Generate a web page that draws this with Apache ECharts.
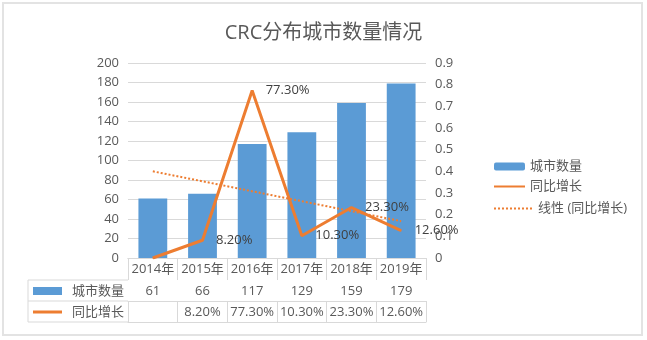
<!DOCTYPE html>
<html>
<head>
<meta charset="utf-8">
<title>CRC分布城市数量情况</title>
<script src="https://cdn.jsdelivr.net/npm/echarts@6/dist/echarts.min.js"></script>
<style>
  html, body { margin: 0; padding: 0; background: #ffffff; }
  #chart { width: 647px; height: 340px; }
</style>
</head>
<body>
<div id="chart"></div>
<script>
// Years on the category axis
const years = ['2014年', '2015年', '2016年', '2017年', '2018年', '2019年'];
// Number of cities per year
const cityCounts = [61, 66, 117, 129, 159, 179];
// Year-on-year growth (2014 has no previous year)
const growthRates = [null, 0.082, 0.773, 0.103, 0.233, 0.126];
// Linear trend of the growth rate, first and last year
const trendStart = 0.40;
const trendEnd = 0.17;
// Series names
const seriesNames = ['城市数量', '同比增长', '线性 (同比增长)'];
// Axis ticks
const leftTicks = { min: 0, max: 200, interval: 20 };
const rightTicks = { min: 0, max: 0.9, interval: 0.1 };

const FONT = "'Open Sans', 'Noto Sans CJK SC', sans-serif";
const TEXT = '#595959';
const RULE = '#D9D9D9';
const BLUE = '#5B9BD5';
const ORANGE = '#ED7D31';

const pct = v => (v * 100).toFixed(2) + '%';
const growthLine = growthRates.map(v => (v == null ? 0 : v));
const trendLine = years.map((_, i) => (i === 0 ? trendStart : i === years.length - 1 ? trendEnd : null));

const chart = echarts.init(document.getElementById('chart'), null, { renderer: 'canvas' });

// One table row below the plot: a category axis pushed down by an offset
function tableRow(offset, formatter, tickLen) {
  return {
    type: 'category',
    data: years,
    position: 'bottom',
    offset: offset,
    boundaryGap: true,
    axisLine: { show: true, lineStyle: { color: RULE, width: 1 } },
    axisTick: { show: tickLen > 0, interval: 0, alignWithLabel: false, length: tickLen, lineStyle: { color: RULE } },
    axisLabel: { show: !!formatter, interval: 0, margin: 5, color: TEXT, fontSize: 13, fontFamily: FONT, formatter: formatter },
    splitLine: { show: false }
  };
}

// legend entries for the lines show only the stroke, no marker
const hideMarker = { opacity: 0 };

chart.setOption({
  backgroundColor: '#ffffff',
  textStyle: { fontFamily: FONT },
  animation: false,
  title: {
    text: 'CRC分布城市数量情况',
    left: 'center',
    top: 18,
    textStyle: { color: TEXT, fontSize: 20, fontWeight: 'normal', fontFamily: FONT }
  },
  legend: [
    {
      data: [{ name: seriesNames[0] }, { name: seriesNames[1], itemStyle: hideMarker }],
      orient: 'vertical',
      left: 488,
      top: 155,
      itemWidth: 31,
      itemHeight: 8,
      itemGap: 7,
      textStyle: { color: TEXT, fontSize: 13, fontFamily: FONT },
      selectedMode: false
    },
    {
      data: [{ name: seriesNames[2], itemStyle: hideMarker }],
      orient: 'vertical',
      left: 488,
      top: 197,
      itemWidth: 39,
      itemHeight: 8,
      textStyle: { color: TEXT, fontSize: 13, fontFamily: FONT },
      selectedMode: false
    }
  ],
  grid: { left: 128, right: 221, top: 63, bottom: 82, containLabel: false },
  xAxis: [
    tableRow(0, v => v, 22),
    tableRow(22, (v, i) => String(cityCounts[i]), 21),
    tableRow(43, (v, i) => (growthRates[i] == null ? '' : pct(growthRates[i])), 21),
    tableRow(64, null, 0)
  ],
  yAxis: [
    {
      type: 'value',
      min: leftTicks.min, max: leftTicks.max, interval: leftTicks.interval,
      axisLine: { show: false }, axisTick: { show: false },
      axisLabel: { color: TEXT, fontSize: 13, margin: 9, fontFamily: FONT },
      splitLine: { show: true, lineStyle: { color: RULE, width: 1 } }
    },
    {
      type: 'value',
      position: 'right',
      min: rightTicks.min, max: rightTicks.max, interval: rightTicks.interval,
      axisLine: { show: false }, axisTick: { show: false },
      axisLabel: {
        color: TEXT, fontSize: 13, margin: 9, fontFamily: FONT,
        formatter: v => (v === 0 ? '0' : v.toFixed(1))
      },
      splitLine: { show: false }
    }
  ],
  series: [
    {
      name: seriesNames[0],
      type: 'bar',
      data: cityCounts,
      barWidth: '58%',
      itemStyle: { color: BLUE },
      z: 2
    },
    {
      name: seriesNames[1],
      type: 'line',
      yAxisIndex: 1,
      data: growthLine,
      symbol: 'circle',
      symbolSize: 1,
      showSymbol: true,
      lineStyle: { color: ORANGE, width: 3 },
      itemStyle: { color: ORANGE },
      label: {
        show: true,
        position: 'right',
        distance: 13,
        color: '#404040',
        fontSize: 13,
        fontFamily: FONT,
        formatter: p => (growthRates[p.dataIndex] == null ? '' : pct(growthRates[p.dataIndex]))
      },
      z: 4
    },
    {
      name: seriesNames[2],
      type: 'line',
      yAxisIndex: 1,
      data: trendLine,
      connectNulls: true,
      symbol: 'none',
      lineStyle: { color: ORANGE, width: 2, type: [2, 2] },
      itemStyle: { color: ORANGE },
      z: 3
    }
  ],
  graphic: [
    // chart frame
    { type: 'rect', shape: { x: 3, y: 3, width: 639, height: 332 }, style: { fill: 'none', stroke: '#E3E3E3', lineWidth: 2 }, silent: true },
    // row-label column of the data table
    { type: 'line', shape: { x1: 28, y1: 280, x2: 128, y2: 280 }, style: { stroke: RULE, lineWidth: 1 }, silent: true },
    { type: 'line', shape: { x1: 28, y1: 301, x2: 128, y2: 301 }, style: { stroke: RULE, lineWidth: 1 }, silent: true },
    { type: 'line', shape: { x1: 28, y1: 322, x2: 128, y2: 322 }, style: { stroke: RULE, lineWidth: 1 }, silent: true },
    { type: 'line', shape: { x1: 28, y1: 280, x2: 28, y2: 322 }, style: { stroke: RULE, lineWidth: 1 }, silent: true },
    { type: 'rect', shape: { x: 33, y: 287, width: 29, height: 8 }, style: { fill: BLUE }, silent: true },
    { type: 'line', shape: { x1: 33, y1: 312, x2: 62, y2: 312 }, style: { stroke: ORANGE, lineWidth: 3 }, silent: true },
    { type: 'text', x: 124, y: 291, style: { text: seriesNames[0], fill: TEXT, fontSize: 13, fontFamily: FONT, align: 'right', verticalAlign: 'middle' }, silent: true },
    { type: 'text', x: 124, y: 312, style: { text: seriesNames[1], fill: TEXT, fontSize: 13, fontFamily: FONT, align: 'right', verticalAlign: 'middle' }, silent: true }
  ]
});
</script>
</body>
</html>
